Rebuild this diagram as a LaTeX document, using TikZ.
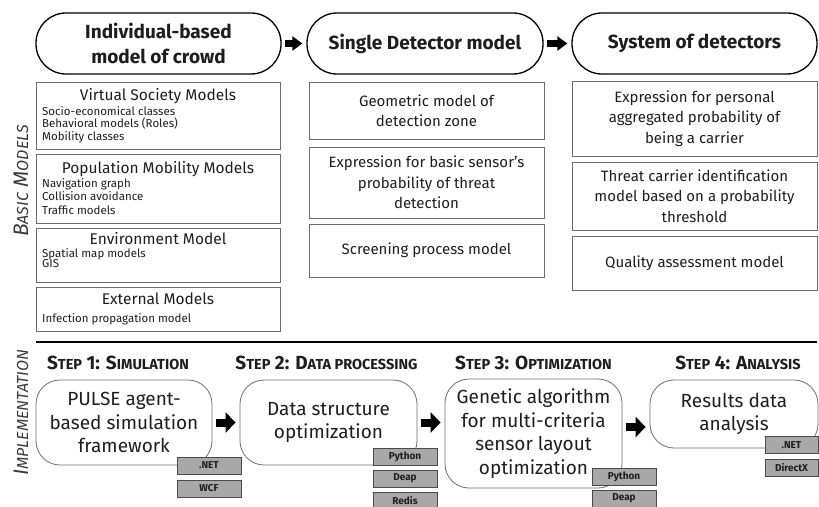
\documentclass[tikz,border=0pt]{standalone}
\usepackage{fontspec}
\setmainfont{Fira Sans}
\usetikzlibrary{arrows.meta,calc}

\definecolor{ink}{HTML}{1E1E1E}
\definecolor{frame}{HTML}{6E6E6E}
\definecolor{tagfill}{HTML}{A8A8A8}
\definecolor{tagedge}{HTML}{4A4A4A}
\definecolor{sidegray}{HTML}{3A3A3A}

% hand-made small capitals
\newcommand\stepsc[1]{{\fontsize{14.5}{16}\selectfont #1}}
\newcommand\sidesc[1]{{\fontsize{16}{18}\selectfont #1}}

\begin{document}
\begin{tikzpicture}[x=1pt,y=-1pt,
  pill/.style={draw=black, line width=1.3pt, rounded corners=30pt,
    minimum height=61pt, inner sep=0pt, align=center, text=ink,
    font=\fontsize{19}{24.5}\selectfont\bfseries},
  panel/.style={draw=frame, line width=0.8pt, inner sep=0pt, align=center,
    text=ink, font=\fontsize{15}{20.5}\selectfont},
  heading/.style={anchor=base, inner sep=0pt, text=ink,
    font=\fontsize{15.5}{18}\selectfont},
  listtext/.style={anchor=base west, inner sep=0pt, text=ink,
    font=\fontsize{11.5}{12.5}\selectfont},
  stage/.style={draw=frame, line width=0.8pt, rounded corners=24pt,
    inner sep=0pt, align=center, text=ink,
    font=\fontsize{19}{23.5}\selectfont},
  tag/.style={fill=tagfill, draw=tagedge, line width=0.8pt,
    minimum width=64pt, minimum height=17pt, inner sep=0pt, text=ink,
    font=\fontsize{10}{11}\selectfont\bfseries},
  steplabel/.style={anchor=base, inner sep=0pt, text=ink,
    font=\fontsize{19}{21}\selectfont\bfseries},
  sidelabel/.style={rotate=90, inner sep=0pt, text=sidegray,
    font=\fontsize{21}{24}\selectfont\itshape},
  toparrow/.style={-{Triangle[length=10pt,width=14pt]}, line width=7pt,
    shorten <=3.5pt, shorten >=4pt},
  steparrow/.style={-{Triangle[length=10pt,width=20pt]}, line width=8pt,
    shorten <=3.5pt, shorten >=4pt}
]
\useasboundingbox (0,0) rectangle (819,506);

% ---- model headers ----
\node[pill, minimum width=245pt] (crowd) at (158.5,43.5)
  {Individual-based\\model of crowd};
\node[pill, minimum width=236pt] (single) at (425,43.5)
  {Single Detector model};
\node[pill, minimum width=245pt] (system) at (694.5,43.5)
  {System of detectors};
\draw[toparrow] (crowd.east) -- (single.west);
\draw[toparrow] (single.east) -- (system.west);

% ---- crowd models ----
\node[panel, minimum width=244pt, minimum height=67pt] (vs) at (158,115.5) {};
\node[heading] at (158,100.5) {Virtual Society Models};
\node[listtext] at (42,115) {Socio-economical classes};
\node[listtext] at (42,127.5) {Behavioral models (Roles)};
\node[listtext] at (42,140) {Mobility classes};

\node[panel, minimum width=244pt, minimum height=69pt] (pm) at (158,188.5) {};
\node[heading] at (158,173.5) {Population Mobility Models};
\node[listtext] at (42,187.5) {Navigation graph};
\node[listtext] at (42,200) {Collision avoidance};
\node[listtext] at (42,214) {Traffic models};

\node[panel, minimum width=244pt, minimum height=54pt] (env) at (158,255) {};
\node[heading] at (158,244) {Environment Model};
\node[listtext] at (42,257) {Spatial map models};
\node[listtext] at (42,267.5) {GIS};

\node[panel, minimum width=244pt, minimum height=44pt] (ext) at (158,309) {};
\node[heading] at (158,304.5) {External Models};
\node[listtext] at (42,322) {Infection propagation model};

% ---- single detector ----
\node[panel, minimum width=235pt, minimum height=57pt] (geo) at (426.5,110.5)
  {Geometric model of\\detection zone};
\node[panel, minimum width=235pt, minimum height=71pt] (basic) at (426.5,182.5)
  {Expression for basic sensor's\\probability of threat\\detection};
\node[panel, minimum width=235pt, minimum height=53pt] (scr) at (426.5,250.5)
  {Screening process model};

% ---- system of detectors ----
\node[panel, minimum width=245pt, minimum height=75pt] (pers) at (694.5,118.5)
  {Expression for personal\\aggregated probability of\\being a carrier};
\node[panel, minimum width=245pt, minimum height=68pt] (thr) at (694.5,196)
  {Threat carrier identification\\model based on a probability\\threshold};
\node[panel, minimum width=245pt, minimum height=54pt] (qual) at (694.5,263)
  {Quality assessment model};

% ---- side titles and separator ----
\node[sidelabel] (basiclbl) at (21,181) {B\sidesc{ASIC} M\sidesc{ODELS}};
\node[sidelabel] (impllbl) at (21,413) {I\sidesc{MPLEMENTATION}};
\draw[line width=2.4pt] (36,342) -- (817,342);

% ---- implementation pipeline ----
\node[stage, minimum width=176pt, minimum height=85pt] (sim) at (124,422.5)
  {PULSE agent-\\based simulation\\framework};
\node[stage, minimum width=177pt, minimum height=85pt] (proc) at (328.5,422.5)
  {Data structure\\optimization};
\node[stage, minimum width=177pt, minimum height=109pt] (opt) at (533.5,433.5)
  {Genetic algorithm\\for multi-criteria\\sensor layout\\optimization};
\node[stage, minimum width=168pt, minimum height=68pt] (ana) at (734,414)
  {Results data\\analysis};

\node[steplabel] at ($(sim.north)+(-6,-10)$)
  {S\stepsc{TEP} 1: S\stepsc{IMULATION}};
\node[steplabel] at ($(proc.north)+(-2,-10)$)
  {S\stepsc{TEP} 2: D\stepsc{ATA PROCESSING}};
\node[steplabel] at ($(opt.north)+(0,-9)$)
  {S\stepsc{TEP} 3: O\stepsc{PTIMIZATION}};
\node[steplabel] at ($(ana.north)+(4,-10)$)
  {S\stepsc{TEP} 4: A\stepsc{NALYSIS}};

\draw[steparrow] (sim.east) -- (sim.east -| proc.west);
\draw[steparrow] (proc.east) -- (proc.east -| opt.west);
\draw[steparrow] ([yshift=6.5pt]opt.east) -- ([yshift=6.5pt]opt.east -| ana.west);

% ---- technology tags ----
\node[tag] (simnet) at (209,465.5) {.NET};
\node[tag] (simwcf) at (209,488.5) {WCF};
\node[tag] (procpy) at (405,456.5) {Python};
\node[tag] (procdeap) at (405,478.5) {Deap};
\node[tag] (procredis) at (405,500.5) {Redis};
\node[tag] (optpy) at (624,476.5) {Python};
\node[tag] (optdeap) at (624,498.5) {Deap};
\node[tag, minimum width=53pt] (ananet) at (791.5,445) {.NET};
\node[tag, minimum width=53pt] (anadx) at (791.5,467.5) {DirectX};
\end{tikzpicture}
\end{document}
